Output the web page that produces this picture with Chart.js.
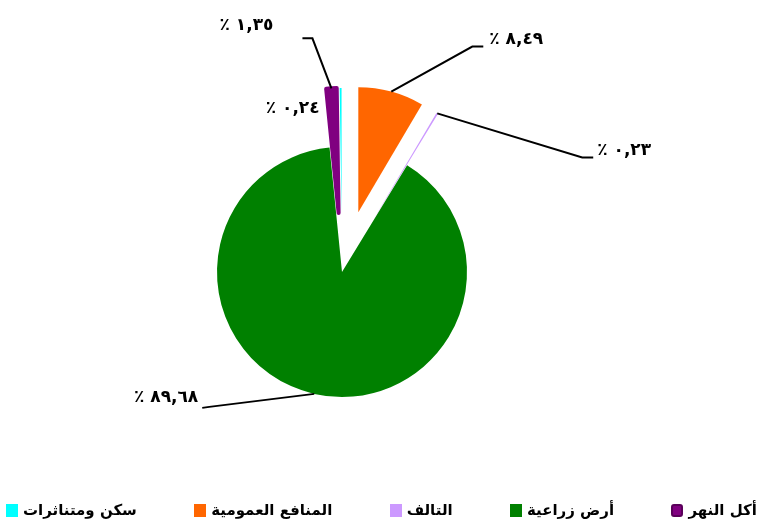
<!DOCTYPE html>
<html lang="ar">
<head>
  <meta charset="UTF-8">
  <title>استخدامات الأرض</title>
  <script src="https://cdn.jsdelivr.net/npm/chart.js"></script>
  <style>
    body {
      margin: 0;
      background: #fff;
      font-family: 'DejaVu Sans', sans-serif;
    }
    .wrap {
      position: relative;
      width: 763px;
      height: 525px;
    }
    #legend {
      position: absolute;
      left: 0;
      top: 501px;
      width: 763px;
      padding: 0 6px;
      box-sizing: border-box;
      display: flex;
      flex-direction: row-reverse;
      justify-content: space-between;
    }
    .item {
      display: flex;
      align-items: center;
      font-weight: bold;
      font-size: 15px;
      color: #000;
    }
    .box {
      width: 12px;
      height: 13px;
      margin-right: 5px;
      box-sizing: border-box;
    }
  </style>
</head>
<body>
  <div class="wrap">
    <canvas id="pie" width="763" height="525"></canvas>
    <div id="legend"></div>
  </div>

  <script>
    // slices, clockwise from 12 o'clock
    const labels = ['المنافع العمومية', 'التالف', 'أرض زراعية', 'أكل النهر', 'سكن ومتناثرات'];
    const values = [8.49, 0.23, 89.68, 1.35, 0.24];
    // legend, right to left
    const legendOrder = ['أكل النهر', 'أرض زراعية', 'التالف', 'المنافع العمومية', 'سكن ومتناثرات'];

    const colors = ['#ff6600', '#cc99ff', '#008000', '#800080', '#00ffff'];
    const borders = [0, 0, 0, 4, 0];
    const explode = [62, 60, 0, 59, 59];

    // leader line / text placement, relative to the outer point of each slice
    const labelLayout = [
      { elbow: [81, -45], end: [92, -45], text: [98, -52], align: 'left' },
      { elbow: [145, 44], end: [156, 44], text: [160, 37], align: 'left' },
      { elbow: [-105, 13], end: [-112, 14], text: [-116, 4], align: 'right' },
      { elbow: [-19, -50], end: [-29, -50], text: [-58, -63], align: 'right' },
      { elbow: null, end: null, text: [-21, 21], align: 'right' }
    ];

    const arabicDigits = '٠١٢٣٤٥٦٧٨٩';
    function pctText(v) {
      const s = v.toFixed(2).replace('.', ',').replace(/\d/g, d => arabicDigits[d]);
      return '٪ ' + s;
    }

    // pull slices out from the centre
    const explodePlugin = {
      id: 'explode',
      afterDatasetsUpdate(chart) {
        chart.getDatasetMeta(0).data.forEach((arc, i) => {
          const mid = (arc.startAngle + arc.endAngle) / 2;
          arc.x += Math.cos(mid) * explode[i];
          arc.y += Math.sin(mid) * explode[i];
        });
      }
    };

    const labelPlugin = {
      id: 'pctLabels',
      afterDatasetsDraw(chart) {
        const ctx = chart.ctx;
        ctx.save();
        ctx.strokeStyle = '#000';
        ctx.lineWidth = 2;
        ctx.fillStyle = '#000';
        ctx.font = 'bold 17px "DejaVu Sans"';
        ctx.textBaseline = 'middle';
        chart.getDatasetMeta(0).data.forEach((arc, i) => {
          const mid = (arc.startAngle + arc.endAngle) / 2;
          const ax = arc.x + Math.cos(mid) * arc.outerRadius;
          const ay = arc.y + Math.sin(mid) * arc.outerRadius;
          const lay = labelLayout[i];
          if (lay.elbow) {
            ctx.beginPath();
            ctx.moveTo(ax, ay);
            ctx.lineTo(ax + lay.elbow[0], ay + lay.elbow[1]);
            ctx.lineTo(ax + lay.end[0], ay + lay.end[1]);
            ctx.stroke();
          }
          ctx.textAlign = lay.align;
          ctx.fillText(pctText(values[i]), ax + lay.text[0], ay + lay.text[1]);
        });
        ctx.restore();
      }
    };

    new Chart(document.getElementById('pie'), {
      type: 'pie',
      data: {
        labels: labels,
        datasets: [{
          data: values,
          backgroundColor: colors,
          borderColor: colors,
          borderWidth: borders,
          borderJoinStyle: 'round',
          radius: 125
        }]
      },
      options: {
        responsive: false,
        animation: false,
        layout: { padding: { left: 0, right: 79, top: 19, bottom: 0 } },
        plugins: {
          legend: { display: false },
          tooltip: { enabled: false }
        }
      },
      plugins: [explodePlugin, labelPlugin]
    });

    // legend under the chart
    const legendEl = document.getElementById('legend');
    legendOrder.forEach(name => {
      const i = labels.indexOf(name);
      const item = document.createElement('div');
      item.className = 'item';
      const box = document.createElement('span');
      box.className = 'box';
      box.style.background = colors[i];
      if (borders[i]) {
        box.style.border = '2px solid #5a005a';
        box.style.borderRadius = '3px';
      }
      const txt = document.createElement('span');
      txt.textContent = name;
      item.appendChild(box);
      item.appendChild(txt);
      legendEl.appendChild(item);
    });
  </script>
</body>
</html>
